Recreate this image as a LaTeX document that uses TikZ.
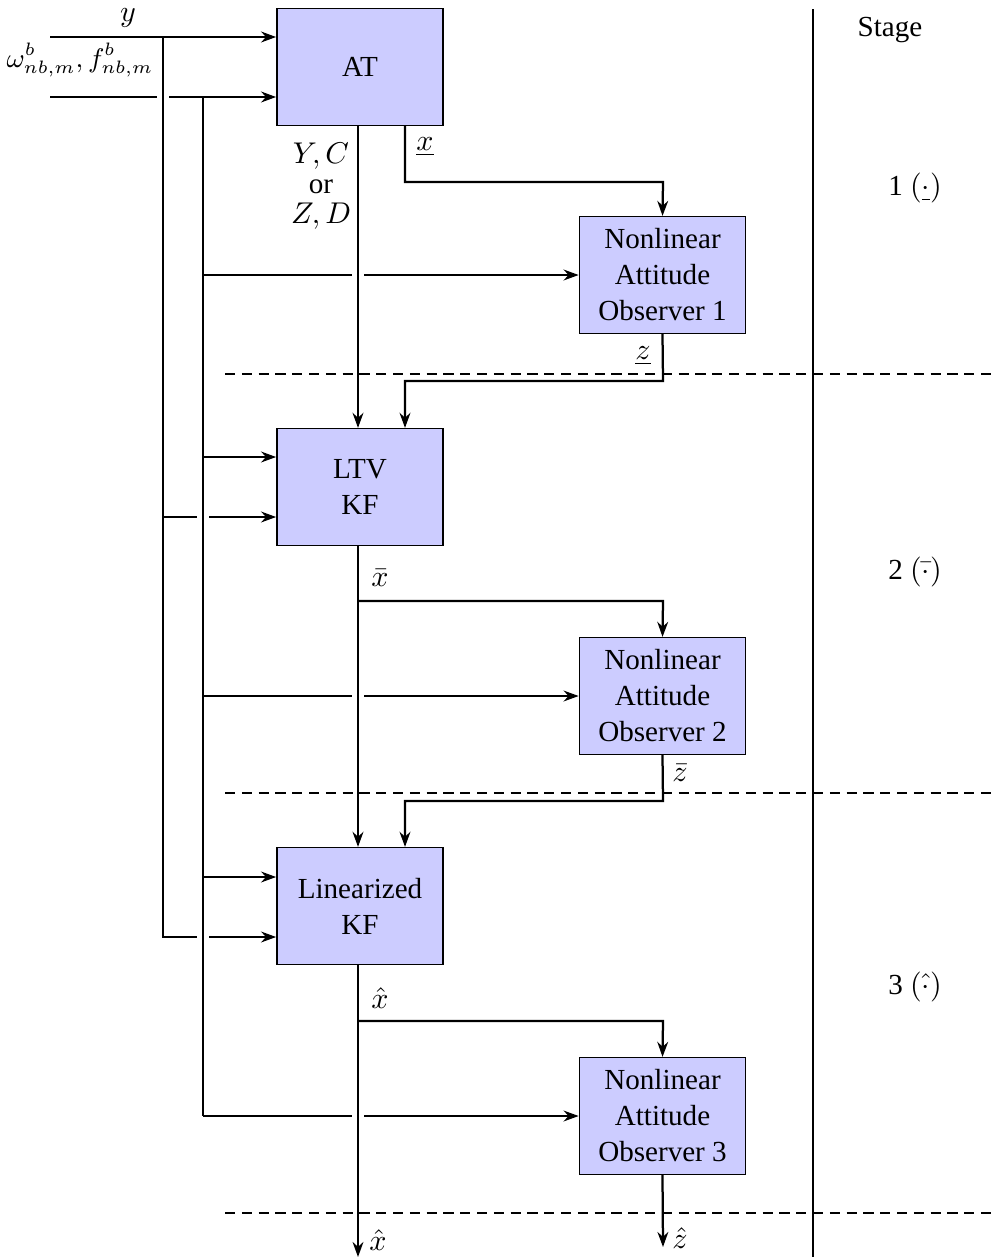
\documentclass[tikz,border=0pt]{standalone}
\usepackage{fontspec}
\setmainfont{Liberation Serif}
\usetikzlibrary{arrows.meta,calc}
\begin{document}
\begin{tikzpicture}[x=0.3333pt,y=-0.3333pt,
  font=\fontsize{9.7}{12}\selectfont,
  blk/.style={draw, line width=0.5pt, fill={rgb,255:red,204;green,204;blue,255}, minimum width=55.4pt, minimum height=38.9pt, inner sep=0pt, align=center},
  wire/.style={line width=0.75pt},
  arr/.style={wire, -{Stealth[length=5pt,width=3.6pt]}},
  sep/.style={line width=0.75pt, dash pattern=on 3.4pt off 2.2pt},
  lbl/.style={inner sep=0pt}]
\useasboundingbox (0,0) rectangle (992,1257);

% blocks
\node[blk] (AT)   at (360,67)    {AT};
\node[blk] (NAO1) at (662.5,275) {Nonlinear\\Attitude\\Observer 1};
\node[blk] (LTV)  at (360,487)   {LTV\\KF};
\node[blk] (NAO2) at (662.5,696) {Nonlinear\\Attitude\\Observer 2};
\node[blk] (LKF)  at (360,906)   {Linearized\\KF};
\node[blk] (NAO3) at (662.5,1116){Nonlinear\\Attitude\\Observer 3};

% coordinates
\coordinate (yin) at (50,37);
\coordinate (win) at (50,97);
\coordinate (ja)  at (163,37);
\coordinate (jb)  at (203,97);
\coordinate (xout) at (358,1257);
\coordinate (zout) at (663,1247);

% inputs to AT
\draw[arr] (yin) -- (AT.west |- yin);
\draw[wire] (win) -- (157,97);
\draw[arr] (169,97) -- (AT.west |- win);

% bus a (y)
\draw[wire] (ja) -- (163,937) -- (197,937);
\draw[arr] (209,937) -- ($(LKF.west)+(0,31)$);
\draw[wire] (163,517) -- (197,517);
\draw[arr] (209,517) -- ($(LTV.west)+(0,30)$);

% bus b (omega, f)
\draw[wire] (jb) -- (203,1116);
\draw[wire] (203,275) -- (352,275);
\draw[arr] (364,275) -- (NAO1.west);
\draw[arr] (203,457) -- ($(LTV.west)+(0,-30)$);
\draw[wire] (203,696) -- (352,696);
\draw[arr] (364,696) -- (NAO2.west);
\draw[arr] (203,877) -- ($(LKF.west)+(0,-29)$);
\draw[wire] (203,1116) -- (352,1116);
\draw[arr] (364,1116) -- (NAO3.west);

% main chain
\draw[arr] ($(AT.south)+(-2,0)$) -- ($(LTV.north)+(-2,0)$);
\draw[arr] ($(LTV.south)+(-2,0)$) -- ($(LKF.north)+(-2,0)$);
\draw[arr] ($(LKF.south)+(-2,0)$) -- (xout);

% AT -> NAO1
\draw[arr] ($(AT.south)+(45,0)$) -- (405,182) -- (663,182) -- (NAO1.north);
% NAO1 -> LTV
\draw[arr] (NAO1.south) -- (663,381) -- (405,381) -- ($(LTV.north)+(45,0)$);
% LTV -> NAO2
\draw[arr] (358,601) -- (663,601) -- (NAO2.north);
% NAO2 -> LKF
\draw[arr] (NAO2.south) -- (663,801) -- (405,801) -- ($(LKF.north)+(45,0)$);
% LKF -> NAO3
\draw[arr] (358,1021) -- (663,1021) -- (NAO3.north);
% NAO3 out
\draw[arr] (NAO3.south) -- (zout);

% separators
\draw[sep] (225,374) -- (992,374);
\draw[sep] (225,793) -- (992,793);
\draw[sep] (225,1213) -- (992,1213);
\draw[wire] (813,9) -- (813,1257);

% labels
\node[lbl] (ly) at (128,18) {$y$};
\node[lbl, font=\fontsize{9.1}{11}\selectfont] (lw) at (80,60) {$\omega^b_{nb,m}, f^b_{nb,m}$};
\node[lbl, align=center, font=\fontsize{9.7}{10}\selectfont] (lyc) at (321,186) {$Y,C$\\or\\$Z,D$};
\node[lbl] (lx1) at (425,147) {$\underline{x}$};
\node[lbl] (lz1) at (643,356) {$\underline{z}$};
\node[lbl] (lx2) at (380,578) {$\bar{x}$};
\node[lbl] (lz2) at (680,773) {$\bar{z}$};
\node[lbl] (lx3) at (380,998) {$\hat{x}$};
\node[lbl] (lx4) at (378,1240) {$\hat{x}$};
\node[lbl] (lz4) at (680,1238) {$\hat{z}$};

\node[lbl] (st) at (890,30) {Stage};
\node[lbl] (s1) at (915,188) {1 $(\underline{\cdot})$};
\node[lbl] (s2) at (915,572) {2 $(\bar{\cdot})$};
\node[lbl] (s3) at (915,987) {3 $(\hat{\cdot})$};
\end{tikzpicture}
\end{document}
